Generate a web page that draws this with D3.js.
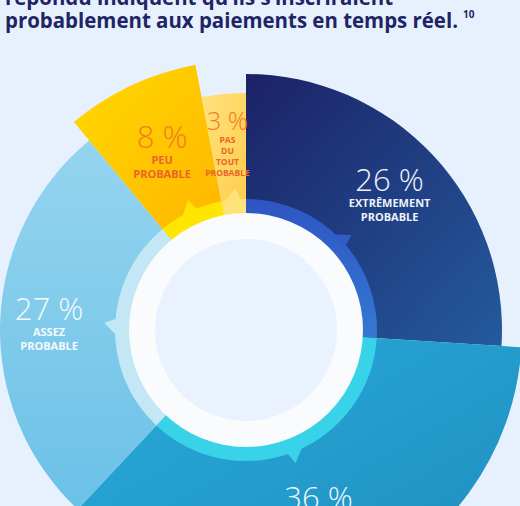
<!DOCTYPE html>
<html>
<head>
<meta charset="utf-8">
<script src="https://cdn.jsdelivr.net/npm/d3@7"></script>
<style>
  html, body { margin: 0; padding: 0; background: #e7f1fd; }
  svg { display: block; }
</style>
</head>
<body>
<svg id="chart" width="520" height="506"></svg>
<script>
// data
const categories = ["EXTRÊMEMENT PROBABLE", "TRÈS PROBABLE", "ASSEZ PROBABLE", "PEU PROBABLE", "PAS DU TOUT PROBABLE"];
const values = [26, 36, 27, 8, 3];
// sub-labels as they show in the picture (the 36 % one falls below the frame)
const labelLines = [["EXTRÊMEMENT", "PROBABLE"], [], ["ASSEZ", "PROBABLE"], ["PEU", "PROBABLE"], ["PAS", "DU", "TOUT", "PROBABLE"]];
const titleLines = ["répondu indiquent qu’ils s’inscriraient", "probablement aux paiements en temps réel."];

// styles (one per slice)
const outerR = [256, 276, 246, 270, 237];
const grads = [["#1c2266", "#245a9e"], ["#28acdc", "#1f8cbd"], ["#95d4ef", "#6bc1e7"], ["#ffd900", "#ffb400"], ["#ffe27e", "#ffcd4a"]];
const bandColors = ["#2f5cc6", "#39d3e9", "#c3e7f5", "#ffe600", "#ffe37a"];
const numColors = ["#eef2fa", "#eef6fb", "#f4fafd", "#f47b22", "#f47b22"];
const subColors = ["#eef2fa", "#eef6fb", "#f4fafd", "#e9632a", "#e9632a"];

const svg = d3.select("#chart");
const cx = 246, cy = 330;
const rInner = 91, rWhite = 117, rBand = 131;

const defs = svg.append("defs");
grads.forEach((g, i) => {
    const lg = defs.append("linearGradient")
        .attr("id", "g" + i)
        .attr("x1", i === 2 ? "0.5" : "0").attr("y1", "0")
        .attr("x2", i === 2 ? "0.5" : "1").attr("y2", "1");
    lg.append("stop").attr("offset", "0").attr("stop-color", g[0]);
    lg.append("stop").attr("offset", "1").attr("stop-color", g[1]);
});
const bg = defs.append("linearGradient").attr("id", "band0")
    .attr("x1", "0").attr("y1", "0").attr("x2", "0").attr("y2", "1");
bg.append("stop").attr("offset", "0").attr("stop-color", "#2e55c3");
bg.append("stop").attr("offset", "1").attr("stop-color", "#3479d2");

// title
const title = svg.append("g").attr("fill", "#1f2465")
    .style("font-family", "'Open Sans', 'Noto Sans', sans-serif")
    .style("font-weight", "700");
title.append("text").attr("x", 5).attr("y", 5).attr("font-size", 21)
    .attr("textLength", 388).attr("lengthAdjust", "spacingAndGlyphs")
    .text(titleLines[0]);
title.append("text").attr("x", 5).attr("y", 28).attr("font-size", 21)
    .attr("textLength", 453).attr("lengthAdjust", "spacingAndGlyphs")
    .text(titleLines[1]);
title.append("text").attr("x", 463).attr("y", 18).attr("font-size", 10)
    .text("10");

const pie = d3.pie().sort(null).value(d => d);
const arcs = pie(values);

const g = svg.append("g").attr("transform", `translate(${cx},${cy})`);

// slices
g.selectAll("path.slice")
    .data(arcs)
    .enter()
    .append("path")
    .attr("class", "slice")
    .attr("d", (d, i) => d3.arc().innerRadius(rWhite).outerRadius(outerR[i])(d))
    .attr("fill", (d, i) => `url(#g${i})`);

// inner coloured band
g.selectAll("path.band")
    .data(arcs)
    .enter()
    .append("path")
    .attr("class", "band")
    .attr("d", d3.arc().innerRadius(rWhite - 1).outerRadius(rBand))
    .attr("fill", (d, i) => i === 0 ? "url(#band0)" : bandColors[i]);

// little pointers on the band
const pt = (a, r) => [r * Math.sin(a), -r * Math.cos(a)];
g.selectAll("path.tip")
    .data(arcs)
    .enter()
    .append("path")
    .attr("class", "tip")
    .attr("d", d => {
        const m = (d.startAngle + d.endAngle) / 2;
        const p = [pt(m - 0.07, rBand - 1), pt(m + 0.02, rBand + 11), pt(m + 0.055, rBand - 1)];
        return "M" + p.map(q => q.join(",")).join("L") + "Z";
    })
    .attr("fill", (d, i) => i === 0 ? "#2f5cc6" : bandColors[i]);

// white ring and inner disc
g.append("circle").attr("r", rWhite).attr("fill", "#fafbfc");
g.append("circle").attr("r", rInner).attr("fill", "#e9f2fe");

// labels
const labelR = 197;
const labels = g.selectAll("g.label")
    .data(arcs)
    .enter()
    .append("g")
    .attr("class", "label")
    .attr("transform", d => {
        const m = (d.startAngle + d.endAngle) / 2;
        const p = pt(m, labelR);
        return `translate(${p[0]},${p[1] - 4})`;
    })
    .attr("text-anchor", "middle")
    .style("font-family", "'Open Sans', 'Noto Sans', sans-serif");

labels.append("text")
    .attr("font-size", (d, i) => i === 4 ? 25 : 31)
    .attr("font-weight", 300)
    .attr("fill", (d, i) => numColors[i])
    .text(d => d.data + " %");

labels.each(function (d, i) {
    const sel = d3.select(this);
    const small = i === 4;
    labelLines[i].forEach((line, j) => {
        sel.append("text")
            .attr("y", (small ? 13 : 16) + j * (small ? 11 : 14))
            .attr("font-size", small ? 8.5 : 11)
            .attr("font-weight", 700)
            .attr("fill", subColors[i])
            .text(line);
    });
});
</script>
</body>
</html>
